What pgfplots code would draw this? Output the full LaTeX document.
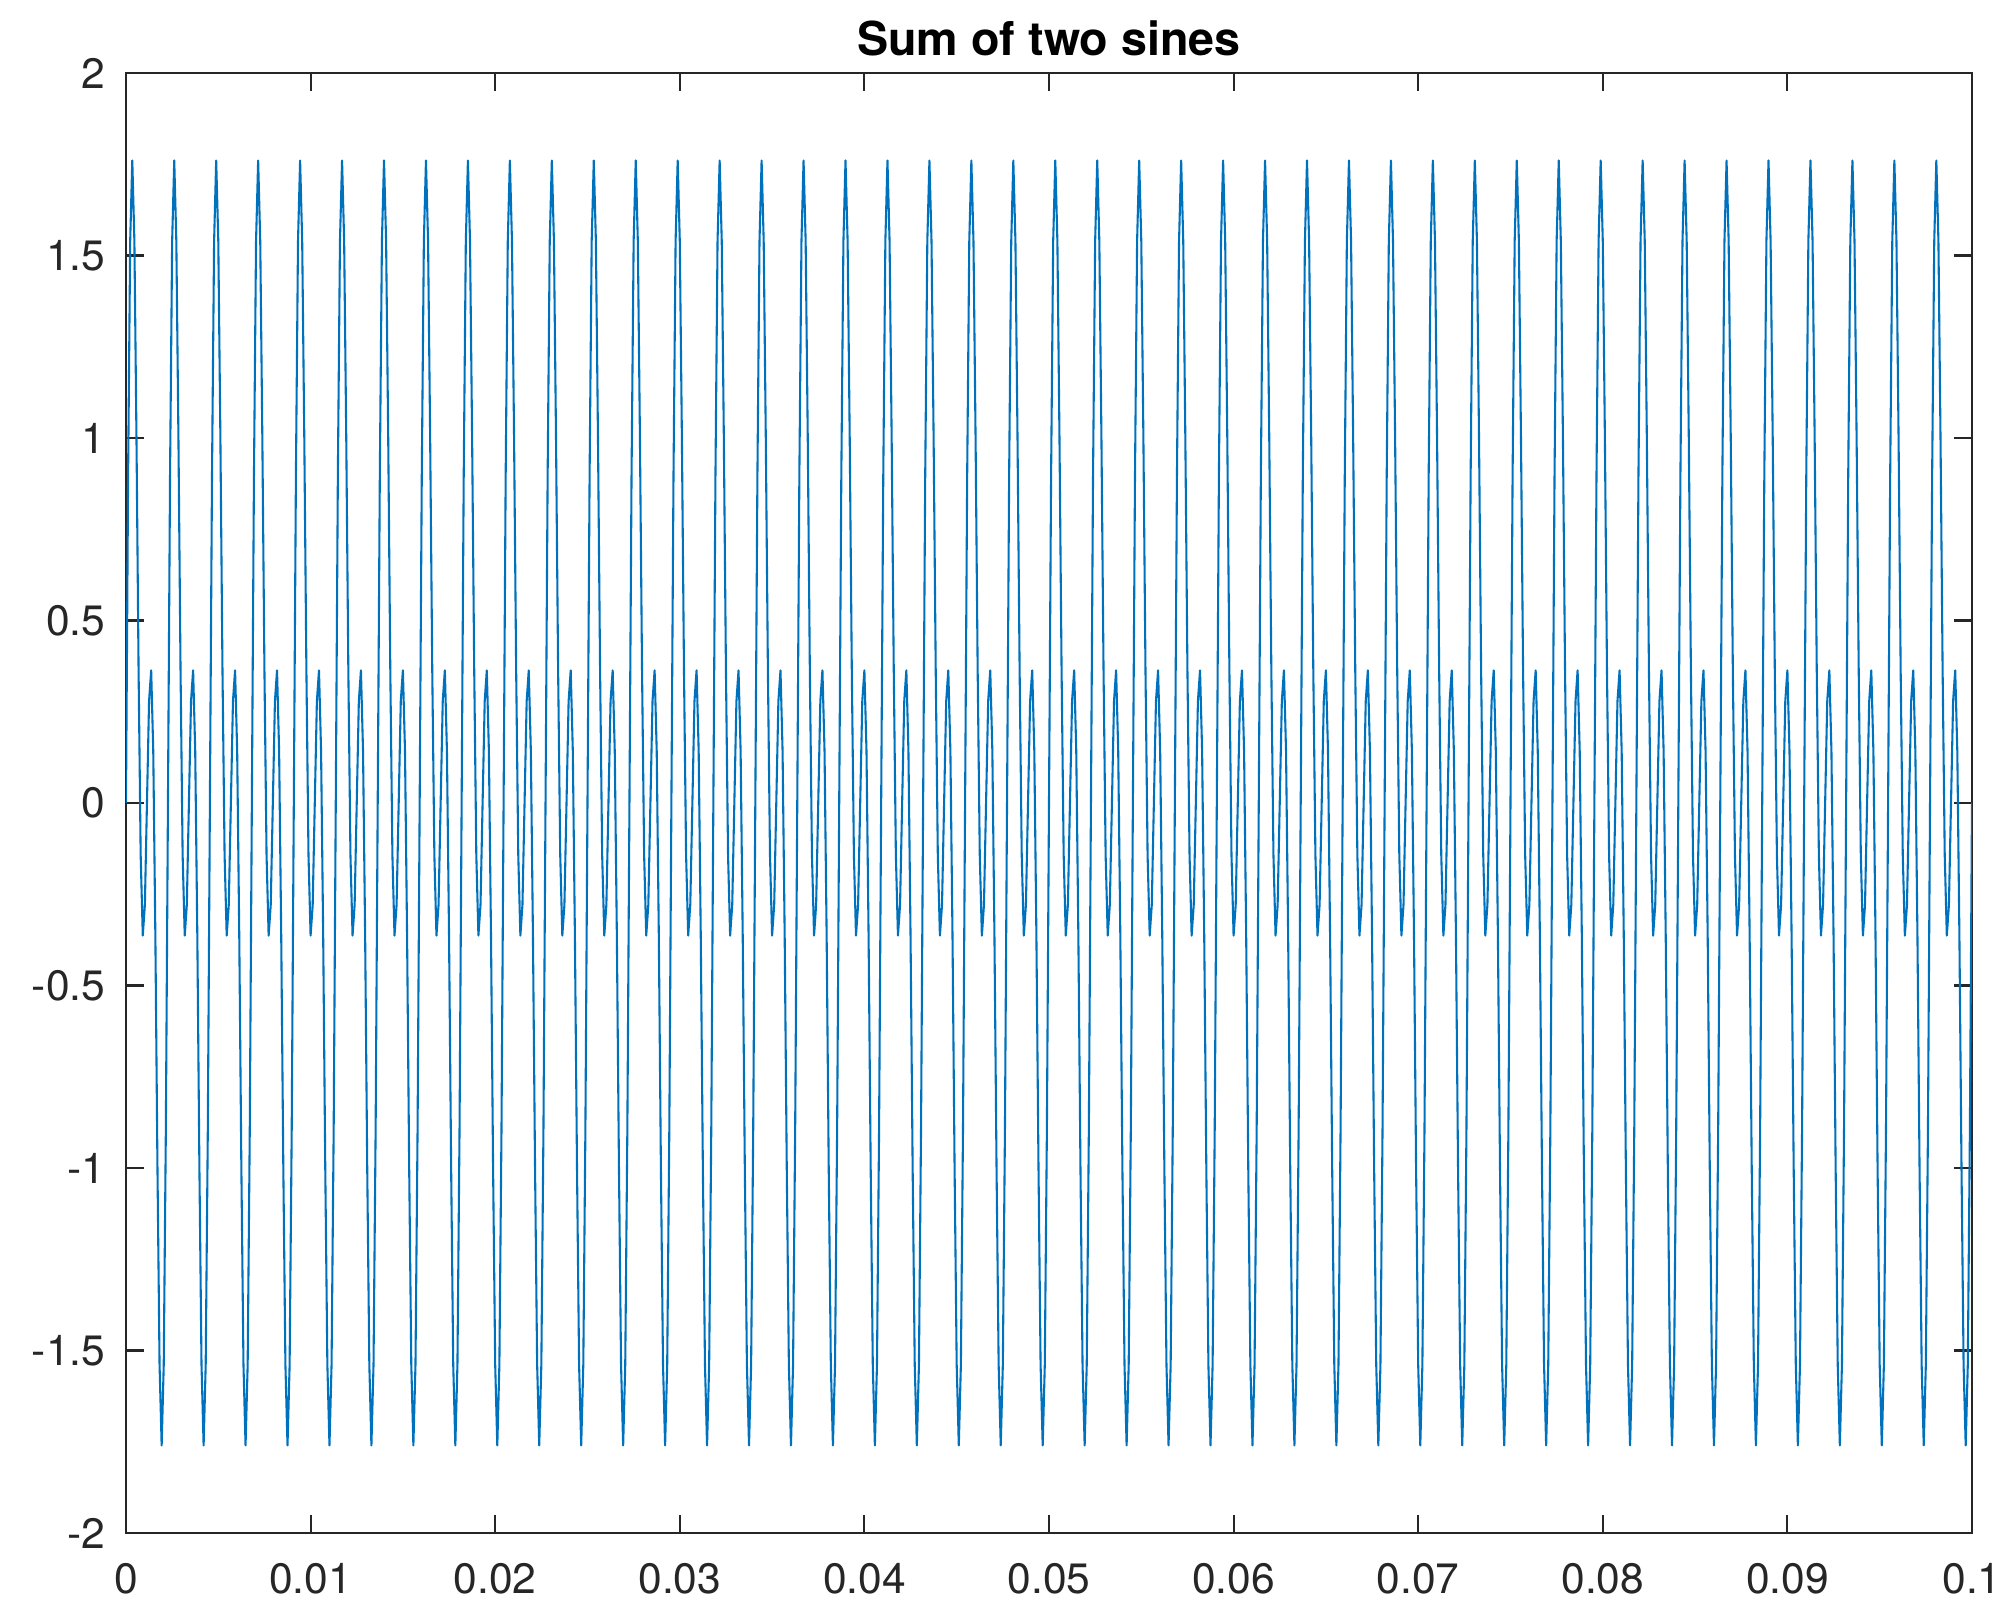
\documentclass[border=0pt]{standalone}
\usepackage{fontspec}
\setmainfont{TeX Gyre Heros}
\usepackage{pgfplots}
\pgfplotsset{compat=1.18}
\definecolor{mblue}{RGB}{0,114,189}
\definecolor{axgray}{RGB}{38,38,38}
\begin{document}
\begin{tikzpicture}
\path[use as bounding box] (-30.23pt,-16.79pt) rectangle (451.78pt,367.81pt);
\begin{axis}[
  at={(0pt,0pt)}, anchor=south west,
  scale only axis, width=442.9pt, height=350.3pt,
  xmin=0, xmax=0.1, ymin=-2, ymax=2,
  xtick={0,0.01,0.02,0.03,0.04,0.05,0.06,0.07,0.08,0.09,0.1},
  xticklabels={0,0.01,0.02,0.03,0.04,0.05,0.06,0.07,0.08,0.09,0.1},
  ytick={-2,-1.5,-1,-0.5,0,0.5,1,1.5,2},
  yticklabels={-2,-1.5,-1,-0.5,0,0.5,1,1.5,2},
  scaled x ticks=false, scaled y ticks=false,
  tick align=inside, major tick length=4.4pt,
  tick style={axgray, line width=0.5pt},
  axis line style={axgray, line width=0.5pt},
  every tick label/.append style={font=\fontsize{10.2}{12}\selectfont, text=axgray},
  xticklabel style={anchor=north, inner sep=0pt, yshift=-7.2pt},
  yticklabel style={anchor=east, inner sep=0pt, xshift=-4.8pt},
  title={Sum of two sines},
  every axis title shift=0pt,
  title style={at={(0.5,1)}, anchor=base, yshift=4.3pt, inner sep=0pt, font=\bfseries\fontsize{11.2}{13}\selectfont},
  clip=true,
]
\addplot[mblue, line width=0.5pt, line join=round, mark=none] coordinates {
(0,0)(0.000114,0.8968)(0.000227,1.5389)(0.000341,1.7601)(0.000455,1.5389)(0.000568,1)(0.000682,0.3633)(0.000795,-0.1421)(0.000909,-0.3633)(0.001023,-0.2788)
(0.001136,0)(0.00125,0.2788)(0.001364,0.3633)(0.001477,0.1421)(0.001591,-0.3633)(0.001705,-1)(0.001818,-1.5389)(0.001932,-1.7601)(0.002045,-1.5389)(0.002159,-0.8968)
(0.002273,0)(0.002386,0.8968)(0.0025,1.5389)(0.002614,1.7601)(0.002727,1.5389)(0.002841,1)(0.002955,0.3633)(0.003068,-0.1421)(0.003182,-0.3633)(0.003295,-0.2788)
(0.003409,0)(0.003523,0.2788)(0.003636,0.3633)(0.00375,0.1421)(0.003864,-0.3633)(0.003977,-1)(0.004091,-1.5389)(0.004205,-1.7601)(0.004318,-1.5389)(0.004432,-0.8968)
(0.004545,0)(0.004659,0.8968)(0.004773,1.5389)(0.004886,1.7601)(0.005,1.5389)(0.005114,1)(0.005227,0.3633)(0.005341,-0.1421)(0.005455,-0.3633)(0.005568,-0.2788)
(0.005682,0)(0.005795,0.2788)(0.005909,0.3633)(0.006023,0.1421)(0.006136,-0.3633)(0.00625,-1)(0.006364,-1.5389)(0.006477,-1.7601)(0.006591,-1.5389)(0.006705,-0.8968)
(0.006818,0)(0.006932,0.8968)(0.007045,1.5389)(0.007159,1.7601)(0.007273,1.5389)(0.007386,1)(0.0075,0.3633)(0.007614,-0.1421)(0.007727,-0.3633)(0.007841,-0.2788)
(0.007955,0)(0.008068,0.2788)(0.008182,0.3633)(0.008295,0.1421)(0.008409,-0.3633)(0.008523,-1)(0.008636,-1.5389)(0.00875,-1.7601)(0.008864,-1.5389)(0.008977,-0.8968)
(0.009091,0)(0.009205,0.8968)(0.009318,1.5389)(0.009432,1.7601)(0.009545,1.5389)(0.009659,1)(0.009773,0.3633)(0.009886,-0.1421)(0.01,-0.3633)(0.010114,-0.2788)
(0.010227,0)(0.010341,0.2788)(0.010455,0.3633)(0.010568,0.1421)(0.010682,-0.3633)(0.010795,-1)(0.010909,-1.5389)(0.011023,-1.7601)(0.011136,-1.5389)(0.01125,-0.8968)
(0.011364,0)(0.011477,0.8968)(0.011591,1.5389)(0.011705,1.7601)(0.011818,1.5389)(0.011932,1)(0.012045,0.3633)(0.012159,-0.1421)(0.012273,-0.3633)(0.012386,-0.2788)
(0.0125,0)(0.012614,0.2788)(0.012727,0.3633)(0.012841,0.1421)(0.012955,-0.3633)(0.013068,-1)(0.013182,-1.5389)(0.013295,-1.7601)(0.013409,-1.5389)(0.013523,-0.8968)
(0.013636,0)(0.01375,0.8968)(0.013864,1.5389)(0.013977,1.7601)(0.014091,1.5389)(0.014205,1)(0.014318,0.3633)(0.014432,-0.1421)(0.014545,-0.3633)(0.014659,-0.2788)
(0.014773,0)(0.014886,0.2788)(0.015,0.3633)(0.015114,0.1421)(0.015227,-0.3633)(0.015341,-1)(0.015455,-1.5389)(0.015568,-1.7601)(0.015682,-1.5389)(0.015795,-0.8968)
(0.015909,0)(0.016023,0.8968)(0.016136,1.5389)(0.01625,1.7601)(0.016364,1.5389)(0.016477,1)(0.016591,0.3633)(0.016705,-0.1421)(0.016818,-0.3633)(0.016932,-0.2788)
(0.017045,0)(0.017159,0.2788)(0.017273,0.3633)(0.017386,0.1421)(0.0175,-0.3633)(0.017614,-1)(0.017727,-1.5389)(0.017841,-1.7601)(0.017955,-1.5389)(0.018068,-0.8968)
(0.018182,0)(0.018295,0.8968)(0.018409,1.5389)(0.018523,1.7601)(0.018636,1.5389)(0.01875,1)(0.018864,0.3633)(0.018977,-0.1421)(0.019091,-0.3633)(0.019205,-0.2788)
(0.019318,0)(0.019432,0.2788)(0.019545,0.3633)(0.019659,0.1421)(0.019773,-0.3633)(0.019886,-1)(0.02,-1.5389)(0.020114,-1.7601)(0.020227,-1.5389)(0.020341,-0.8968)
(0.020455,0)(0.020568,0.8968)(0.020682,1.5389)(0.020795,1.7601)(0.020909,1.5389)(0.021023,1)(0.021136,0.3633)(0.02125,-0.1421)(0.021364,-0.3633)(0.021477,-0.2788)
(0.021591,0)(0.021705,0.2788)(0.021818,0.3633)(0.021932,0.1421)(0.022045,-0.3633)(0.022159,-1)(0.022273,-1.5389)(0.022386,-1.7601)(0.0225,-1.5389)(0.022614,-0.8968)
(0.022727,0)(0.022841,0.8968)(0.022955,1.5389)(0.023068,1.7601)(0.023182,1.5389)(0.023295,1)(0.023409,0.3633)(0.023523,-0.1421)(0.023636,-0.3633)(0.02375,-0.2788)
(0.023864,0)(0.023977,0.2788)(0.024091,0.3633)(0.024205,0.1421)(0.024318,-0.3633)(0.024432,-1)(0.024545,-1.5389)(0.024659,-1.7601)(0.024773,-1.5389)(0.024886,-0.8968)
(0.025,0)(0.025114,0.8968)(0.025227,1.5389)(0.025341,1.7601)(0.025455,1.5389)(0.025568,1)(0.025682,0.3633)(0.025795,-0.1421)(0.025909,-0.3633)(0.026023,-0.2788)
(0.026136,0)(0.02625,0.2788)(0.026364,0.3633)(0.026477,0.1421)(0.026591,-0.3633)(0.026705,-1)(0.026818,-1.5389)(0.026932,-1.7601)(0.027045,-1.5389)(0.027159,-0.8968)
(0.027273,0)(0.027386,0.8968)(0.0275,1.5389)(0.027614,1.7601)(0.027727,1.5389)(0.027841,1)(0.027955,0.3633)(0.028068,-0.1421)(0.028182,-0.3633)(0.028295,-0.2788)
(0.028409,0)(0.028523,0.2788)(0.028636,0.3633)(0.02875,0.1421)(0.028864,-0.3633)(0.028977,-1)(0.029091,-1.5389)(0.029205,-1.7601)(0.029318,-1.5389)(0.029432,-0.8968)
(0.029545,0)(0.029659,0.8968)(0.029773,1.5389)(0.029886,1.7601)(0.03,1.5389)(0.030114,1)(0.030227,0.3633)(0.030341,-0.1421)(0.030455,-0.3633)(0.030568,-0.2788)
(0.030682,0)(0.030795,0.2788)(0.030909,0.3633)(0.031023,0.1421)(0.031136,-0.3633)(0.03125,-1)(0.031364,-1.5389)(0.031477,-1.7601)(0.031591,-1.5389)(0.031705,-0.8968)
(0.031818,0)(0.031932,0.8968)(0.032045,1.5389)(0.032159,1.7601)(0.032273,1.5389)(0.032386,1)(0.0325,0.3633)(0.032614,-0.1421)(0.032727,-0.3633)(0.032841,-0.2788)
(0.032955,0)(0.033068,0.2788)(0.033182,0.3633)(0.033295,0.1421)(0.033409,-0.3633)(0.033523,-1)(0.033636,-1.5389)(0.03375,-1.7601)(0.033864,-1.5389)(0.033977,-0.8968)
(0.034091,0)(0.034205,0.8968)(0.034318,1.5389)(0.034432,1.7601)(0.034545,1.5389)(0.034659,1)(0.034773,0.3633)(0.034886,-0.1421)(0.035,-0.3633)(0.035114,-0.2788)
(0.035227,0)(0.035341,0.2788)(0.035455,0.3633)(0.035568,0.1421)(0.035682,-0.3633)(0.035795,-1)(0.035909,-1.5389)(0.036023,-1.7601)(0.036136,-1.5389)(0.03625,-0.8968)
(0.036364,0)(0.036477,0.8968)(0.036591,1.5389)(0.036705,1.7601)(0.036818,1.5389)(0.036932,1)(0.037045,0.3633)(0.037159,-0.1421)(0.037273,-0.3633)(0.037386,-0.2788)
(0.0375,0)(0.037614,0.2788)(0.037727,0.3633)(0.037841,0.1421)(0.037955,-0.3633)(0.038068,-1)(0.038182,-1.5389)(0.038295,-1.7601)(0.038409,-1.5389)(0.038523,-0.8968)
(0.038636,0)(0.03875,0.8968)(0.038864,1.5389)(0.038977,1.7601)(0.039091,1.5389)(0.039205,1)(0.039318,0.3633)(0.039432,-0.1421)(0.039545,-0.3633)(0.039659,-0.2788)
(0.039773,0)(0.039886,0.2788)(0.04,0.3633)(0.040114,0.1421)(0.040227,-0.3633)(0.040341,-1)(0.040455,-1.5389)(0.040568,-1.7601)(0.040682,-1.5389)(0.040795,-0.8968)
(0.040909,0)(0.041023,0.8968)(0.041136,1.5389)(0.04125,1.7601)(0.041364,1.5389)(0.041477,1)(0.041591,0.3633)(0.041705,-0.1421)(0.041818,-0.3633)(0.041932,-0.2788)
(0.042045,0)(0.042159,0.2788)(0.042273,0.3633)(0.042386,0.1421)(0.0425,-0.3633)(0.042614,-1)(0.042727,-1.5389)(0.042841,-1.7601)(0.042955,-1.5389)(0.043068,-0.8968)
(0.043182,0)(0.043295,0.8968)(0.043409,1.5389)(0.043523,1.7601)(0.043636,1.5389)(0.04375,1)(0.043864,0.3633)(0.043977,-0.1421)(0.044091,-0.3633)(0.044205,-0.2788)
(0.044318,0)(0.044432,0.2788)(0.044545,0.3633)(0.044659,0.1421)(0.044773,-0.3633)(0.044886,-1)(0.045,-1.5389)(0.045114,-1.7601)(0.045227,-1.5389)(0.045341,-0.8968)
(0.045455,0)(0.045568,0.8968)(0.045682,1.5389)(0.045795,1.7601)(0.045909,1.5389)(0.046023,1)(0.046136,0.3633)(0.04625,-0.1421)(0.046364,-0.3633)(0.046477,-0.2788)
(0.046591,0)(0.046705,0.2788)(0.046818,0.3633)(0.046932,0.1421)(0.047045,-0.3633)(0.047159,-1)(0.047273,-1.5389)(0.047386,-1.7601)(0.0475,-1.5389)(0.047614,-0.8968)
(0.047727,0)(0.047841,0.8968)(0.047955,1.5389)(0.048068,1.7601)(0.048182,1.5389)(0.048295,1)(0.048409,0.3633)(0.048523,-0.1421)(0.048636,-0.3633)(0.04875,-0.2788)
(0.048864,0)(0.048977,0.2788)(0.049091,0.3633)(0.049205,0.1421)(0.049318,-0.3633)(0.049432,-1)(0.049545,-1.5389)(0.049659,-1.7601)(0.049773,-1.5389)(0.049886,-0.8968)
(0.05,0)(0.050114,0.8968)(0.050227,1.5389)(0.050341,1.7601)(0.050455,1.5389)(0.050568,1)(0.050682,0.3633)(0.050795,-0.1421)(0.050909,-0.3633)(0.051023,-0.2788)
(0.051136,0)(0.05125,0.2788)(0.051364,0.3633)(0.051477,0.1421)(0.051591,-0.3633)(0.051705,-1)(0.051818,-1.5389)(0.051932,-1.7601)(0.052045,-1.5389)(0.052159,-0.8968)
(0.052273,0)(0.052386,0.8968)(0.0525,1.5389)(0.052614,1.7601)(0.052727,1.5389)(0.052841,1)(0.052955,0.3633)(0.053068,-0.1421)(0.053182,-0.3633)(0.053295,-0.2788)
(0.053409,0)(0.053523,0.2788)(0.053636,0.3633)(0.05375,0.1421)(0.053864,-0.3633)(0.053977,-1)(0.054091,-1.5389)(0.054205,-1.7601)(0.054318,-1.5389)(0.054432,-0.8968)
(0.054545,0)(0.054659,0.8968)(0.054773,1.5389)(0.054886,1.7601)(0.055,1.5389)(0.055114,1)(0.055227,0.3633)(0.055341,-0.1421)(0.055455,-0.3633)(0.055568,-0.2788)
(0.055682,0)(0.055795,0.2788)(0.055909,0.3633)(0.056023,0.1421)(0.056136,-0.3633)(0.05625,-1)(0.056364,-1.5389)(0.056477,-1.7601)(0.056591,-1.5389)(0.056705,-0.8968)
(0.056818,0)(0.056932,0.8968)(0.057045,1.5389)(0.057159,1.7601)(0.057273,1.5389)(0.057386,1)(0.0575,0.3633)(0.057614,-0.1421)(0.057727,-0.3633)(0.057841,-0.2788)
(0.057955,0)(0.058068,0.2788)(0.058182,0.3633)(0.058295,0.1421)(0.058409,-0.3633)(0.058523,-1)(0.058636,-1.5389)(0.05875,-1.7601)(0.058864,-1.5389)(0.058977,-0.8968)
(0.059091,0)(0.059205,0.8968)(0.059318,1.5389)(0.059432,1.7601)(0.059545,1.5389)(0.059659,1)(0.059773,0.3633)(0.059886,-0.1421)(0.06,-0.3633)(0.060114,-0.2788)
(0.060227,0)(0.060341,0.2788)(0.060455,0.3633)(0.060568,0.1421)(0.060682,-0.3633)(0.060795,-1)(0.060909,-1.5389)(0.061023,-1.7601)(0.061136,-1.5389)(0.06125,-0.8968)
(0.061364,0)(0.061477,0.8968)(0.061591,1.5389)(0.061705,1.7601)(0.061818,1.5389)(0.061932,1)(0.062045,0.3633)(0.062159,-0.1421)(0.062273,-0.3633)(0.062386,-0.2788)
(0.0625,0)(0.062614,0.2788)(0.062727,0.3633)(0.062841,0.1421)(0.062955,-0.3633)(0.063068,-1)(0.063182,-1.5389)(0.063295,-1.7601)(0.063409,-1.5389)(0.063523,-0.8968)
(0.063636,0)(0.06375,0.8968)(0.063864,1.5389)(0.063977,1.7601)(0.064091,1.5389)(0.064205,1)(0.064318,0.3633)(0.064432,-0.1421)(0.064545,-0.3633)(0.064659,-0.2788)
(0.064773,0)(0.064886,0.2788)(0.065,0.3633)(0.065114,0.1421)(0.065227,-0.3633)(0.065341,-1)(0.065455,-1.5389)(0.065568,-1.7601)(0.065682,-1.5389)(0.065795,-0.8968)
(0.065909,0)(0.066023,0.8968)(0.066136,1.5389)(0.06625,1.7601)(0.066364,1.5389)(0.066477,1)(0.066591,0.3633)(0.066705,-0.1421)(0.066818,-0.3633)(0.066932,-0.2788)
(0.067045,0)(0.067159,0.2788)(0.067273,0.3633)(0.067386,0.1421)(0.0675,-0.3633)(0.067614,-1)(0.067727,-1.5389)(0.067841,-1.7601)(0.067955,-1.5389)(0.068068,-0.8968)
(0.068182,0)(0.068295,0.8968)(0.068409,1.5389)(0.068523,1.7601)(0.068636,1.5389)(0.06875,1)(0.068864,0.3633)(0.068977,-0.1421)(0.069091,-0.3633)(0.069205,-0.2788)
(0.069318,0)(0.069432,0.2788)(0.069545,0.3633)(0.069659,0.1421)(0.069773,-0.3633)(0.069886,-1)(0.07,-1.5389)(0.070114,-1.7601)(0.070227,-1.5389)(0.070341,-0.8968)
(0.070455,0)(0.070568,0.8968)(0.070682,1.5389)(0.070795,1.7601)(0.070909,1.5389)(0.071023,1)(0.071136,0.3633)(0.07125,-0.1421)(0.071364,-0.3633)(0.071477,-0.2788)
(0.071591,0)(0.071705,0.2788)(0.071818,0.3633)(0.071932,0.1421)(0.072045,-0.3633)(0.072159,-1)(0.072273,-1.5389)(0.072386,-1.7601)(0.0725,-1.5389)(0.072614,-0.8968)
(0.072727,0)(0.072841,0.8968)(0.072955,1.5389)(0.073068,1.7601)(0.073182,1.5389)(0.073295,1)(0.073409,0.3633)(0.073523,-0.1421)(0.073636,-0.3633)(0.07375,-0.2788)
(0.073864,0)(0.073977,0.2788)(0.074091,0.3633)(0.074205,0.1421)(0.074318,-0.3633)(0.074432,-1)(0.074545,-1.5389)(0.074659,-1.7601)(0.074773,-1.5389)(0.074886,-0.8968)
(0.075,0)(0.075114,0.8968)(0.075227,1.5389)(0.075341,1.7601)(0.075455,1.5389)(0.075568,1)(0.075682,0.3633)(0.075795,-0.1421)(0.075909,-0.3633)(0.076023,-0.2788)
(0.076136,0)(0.07625,0.2788)(0.076364,0.3633)(0.076477,0.1421)(0.076591,-0.3633)(0.076705,-1)(0.076818,-1.5389)(0.076932,-1.7601)(0.077045,-1.5389)(0.077159,-0.8968)
(0.077273,0)(0.077386,0.8968)(0.0775,1.5389)(0.077614,1.7601)(0.077727,1.5389)(0.077841,1)(0.077955,0.3633)(0.078068,-0.1421)(0.078182,-0.3633)(0.078295,-0.2788)
(0.078409,0)(0.078523,0.2788)(0.078636,0.3633)(0.07875,0.1421)(0.078864,-0.3633)(0.078977,-1)(0.079091,-1.5389)(0.079205,-1.7601)(0.079318,-1.5389)(0.079432,-0.8968)
(0.079545,0)(0.079659,0.8968)(0.079773,1.5389)(0.079886,1.7601)(0.08,1.5389)(0.080114,1)(0.080227,0.3633)(0.080341,-0.1421)(0.080455,-0.3633)(0.080568,-0.2788)
(0.080682,0)(0.080795,0.2788)(0.080909,0.3633)(0.081023,0.1421)(0.081136,-0.3633)(0.08125,-1)(0.081364,-1.5389)(0.081477,-1.7601)(0.081591,-1.5389)(0.081705,-0.8968)
(0.081818,0)(0.081932,0.8968)(0.082045,1.5389)(0.082159,1.7601)(0.082273,1.5389)(0.082386,1)(0.0825,0.3633)(0.082614,-0.1421)(0.082727,-0.3633)(0.082841,-0.2788)
(0.082955,0)(0.083068,0.2788)(0.083182,0.3633)(0.083295,0.1421)(0.083409,-0.3633)(0.083523,-1)(0.083636,-1.5389)(0.08375,-1.7601)(0.083864,-1.5389)(0.083977,-0.8968)
(0.084091,0)(0.084205,0.8968)(0.084318,1.5389)(0.084432,1.7601)(0.084545,1.5389)(0.084659,1)(0.084773,0.3633)(0.084886,-0.1421)(0.085,-0.3633)(0.085114,-0.2788)
(0.085227,0)(0.085341,0.2788)(0.085455,0.3633)(0.085568,0.1421)(0.085682,-0.3633)(0.085795,-1)(0.085909,-1.5389)(0.086023,-1.7601)(0.086136,-1.5389)(0.08625,-0.8968)
(0.086364,0)(0.086477,0.8968)(0.086591,1.5389)(0.086705,1.7601)(0.086818,1.5389)(0.086932,1)(0.087045,0.3633)(0.087159,-0.1421)(0.087273,-0.3633)(0.087386,-0.2788)
(0.0875,0)(0.087614,0.2788)(0.087727,0.3633)(0.087841,0.1421)(0.087955,-0.3633)(0.088068,-1)(0.088182,-1.5389)(0.088295,-1.7601)(0.088409,-1.5389)(0.088523,-0.8968)
(0.088636,0)(0.08875,0.8968)(0.088864,1.5389)(0.088977,1.7601)(0.089091,1.5389)(0.089205,1)(0.089318,0.3633)(0.089432,-0.1421)(0.089545,-0.3633)(0.089659,-0.2788)
(0.089773,0)(0.089886,0.2788)(0.09,0.3633)(0.090114,0.1421)(0.090227,-0.3633)(0.090341,-1)(0.090455,-1.5389)(0.090568,-1.7601)(0.090682,-1.5389)(0.090795,-0.8968)
(0.090909,0)(0.091023,0.8968)(0.091136,1.5389)(0.09125,1.7601)(0.091364,1.5389)(0.091477,1)(0.091591,0.3633)(0.091705,-0.1421)(0.091818,-0.3633)(0.091932,-0.2788)
(0.092045,0)(0.092159,0.2788)(0.092273,0.3633)(0.092386,0.1421)(0.0925,-0.3633)(0.092614,-1)(0.092727,-1.5389)(0.092841,-1.7601)(0.092955,-1.5389)(0.093068,-0.8968)
(0.093182,0)(0.093295,0.8968)(0.093409,1.5389)(0.093523,1.7601)(0.093636,1.5389)(0.09375,1)(0.093864,0.3633)(0.093977,-0.1421)(0.094091,-0.3633)(0.094205,-0.2788)
(0.094318,0)(0.094432,0.2788)(0.094545,0.3633)(0.094659,0.1421)(0.094773,-0.3633)(0.094886,-1)(0.095,-1.5389)(0.095114,-1.7601)(0.095227,-1.5389)(0.095341,-0.8968)
(0.095455,0)(0.095568,0.8968)(0.095682,1.5389)(0.095795,1.7601)(0.095909,1.5389)(0.096023,1)(0.096136,0.3633)(0.09625,-0.1421)(0.096364,-0.3633)(0.096477,-0.2788)
(0.096591,0)(0.096705,0.2788)(0.096818,0.3633)(0.096932,0.1421)(0.097045,-0.3633)(0.097159,-1)(0.097273,-1.5389)(0.097386,-1.7601)(0.0975,-1.5389)(0.097614,-0.8968)
(0.097727,0)(0.097841,0.8968)(0.097955,1.5389)(0.098068,1.7601)(0.098182,1.5389)(0.098295,1)(0.098409,0.3633)(0.098523,-0.1421)(0.098636,-0.3633)(0.09875,-0.2788)
(0.098864,0)(0.098977,0.2788)(0.099091,0.3633)(0.099205,0.1421)(0.099318,-0.3633)(0.099432,-1)(0.099545,-1.5389)(0.099659,-1.7601)(0.099773,-1.5389)(0.099886,-0.8968)
(0.1,0)
};
\end{axis}
\end{tikzpicture}
\end{document}
